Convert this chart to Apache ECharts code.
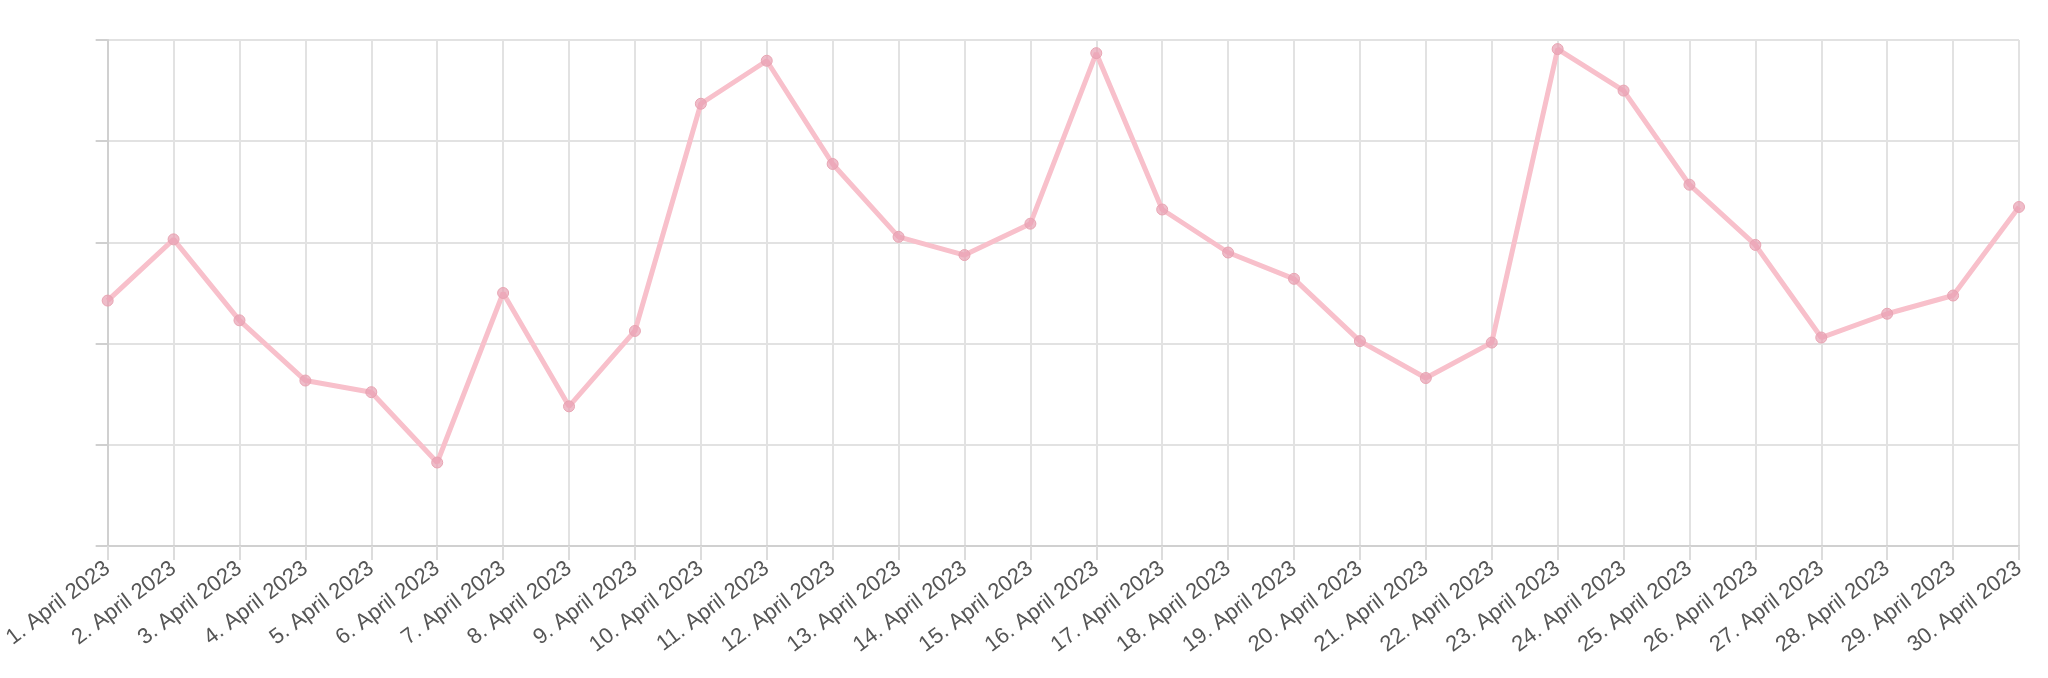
<!DOCTYPE html><html><head><meta charset="utf-8"><script src="https://cdn.jsdelivr.net/npm/echarts@6/dist/echarts.min.js"></script><style>html,body{margin:0;background:#fff}#c{width:2048px;height:678px}</style></head><body><div id="c"></div><script>
const categories=[];for(let d=1;d<=30;d++)categories.push(d+'. April 2023');
const values=[48.5,60.6,44.6,32.7,30.4,16.5,50,27.6,42.5,87.4,95.9,75.5,61.1,57.5,63.7,97.4,66.5,58,52.8,40.5,33.2,40.2,98.2,90,71.4,59.5,41.2,45.9,49.5,67];
const yTicks={min:0,max:100,interval:20};
const ch=echarts.init(document.getElementById('c'));
ch.setOption({animation:false,
grid:{left:105,right:29,top:40,bottom:132},
xAxis:{type:'category',data:categories,boundaryGap:false,
 axisLine:{lineStyle:{color:'#d0d0d0',width:2}},
 axisTick:{alignWithLabel:true,length:14,lineStyle:{color:'#dcdcdc',width:2}},
 splitLine:{show:true,lineStyle:{color:'#e2e2e2',width:2}},
 axisLabel:{rotate:37,color:'#555',fontSize:22,fontFamily:'Liberation Sans, Arial',margin:20,interval:0}},
yAxis:{type:'value',min:yTicks.min,max:yTicks.max,interval:yTicks.interval,
 axisLine:{show:true,lineStyle:{color:'#d0d0d0',width:2}},
 axisTick:{show:true,length:12,lineStyle:{color:'#d0d0d0',width:2}},
 axisLabel:{show:false},
 splitLine:{lineStyle:{color:'#e2e2e2',width:2}}},
series:[{type:'line',data:values,symbol:'circle',symbolSize:11,
 lineStyle:{color:'#f8c0cb',width:5},
 itemStyle:{color:'rgba(232,160,178,0.7)',borderColor:'#e8a5b3',borderWidth:1}}]});
</script></body></html>
